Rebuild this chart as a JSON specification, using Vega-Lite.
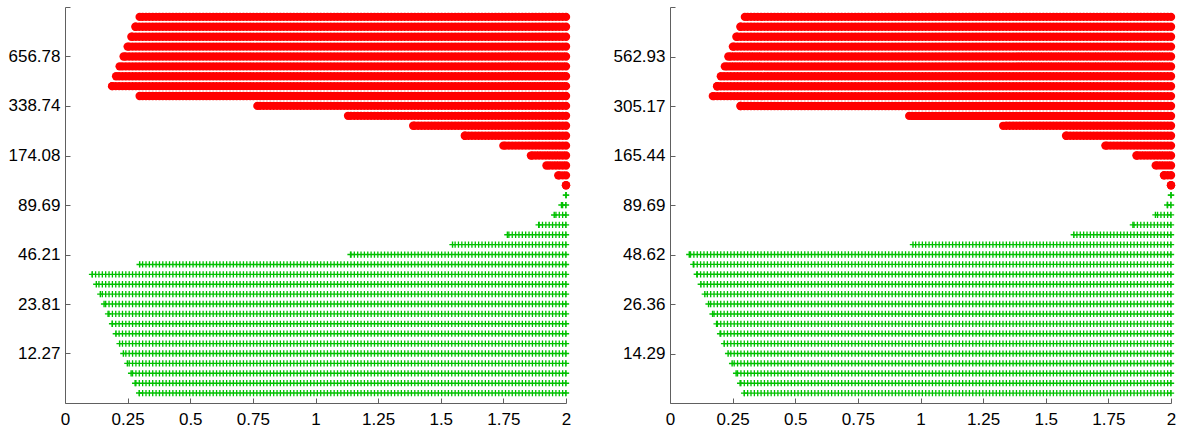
{
  "$schema": "https://vega.github.io/schema/vega-lite/v6.json",
  "background": "white",
  "padding": {"left": 8, "top": 6, "right": 5, "bottom": 0},
  "bounds": "flush",
  "spacing": 104,
  "config": {
    "view": {"stroke": null},
    "axis": {
      "labelFont": "Liberation Sans",
      "labelFontSize": 17,
      "labelColor": "#000000",
      "domainColor": "#606060",
      "tickColor": "#606060",
      "domainWidth": 1,
      "tickWidth": 1,
      "tickSize": -5,
      "labelPadding": 10,
      "labelFlush": false,
      "grid": false,
      "title": null
    }
  },
  "datasets": {
    "left": [
      {"y": 1116.35, "x0": 0.298, "x1": 2, "kind": "red"},
      {"y": 977.70, "x0": 0.281, "x1": 2, "kind": "red"},
      {"y": 856.28, "x0": 0.265, "x1": 2, "kind": "red"},
      {"y": 749.85, "x0": 0.250, "x1": 2, "kind": "red"},
      {"y": 656.78, "x0": 0.234, "x1": 2, "kind": "red"},
      {"y": 575.32, "x0": 0.218, "x1": 2, "kind": "red"},
      {"y": 503.96, "x0": 0.204, "x1": 2, "kind": "red"},
      {"y": 441.46, "x0": 0.188, "x1": 2, "kind": "red"},
      {"y": 386.70, "x0": 0.298, "x1": 2, "kind": "red"},
      {"y": 338.74, "x0": 0.768, "x1": 2, "kind": "red"},
      {"y": 296.51, "x0": 1.13, "x1": 2, "kind": "red"},
      {"y": 259.55, "x0": 1.39, "x1": 2, "kind": "red"},
      {"y": 227.19, "x0": 1.596, "x1": 2, "kind": "red"},
      {"y": 198.87, "x0": 1.75, "x1": 2, "kind": "red"},
      {"y": 174.08, "x0": 1.86, "x1": 2, "kind": "red"},
      {"y": 152.45, "x0": 1.922, "x1": 2, "kind": "red"},
      {"y": 133.51, "x0": 1.969, "x1": 2, "kind": "red"},
      {"y": 116.93, "x0": 2, "x1": 2, "kind": "red"},
      {"y": 102.41, "x0": 2, "x1": 2, "kind": "green"},
      {"y": 89.69, "x0": 1.982, "x1": 2, "kind": "green"},
      {"y": 78.55, "x0": 1.953, "x1": 2, "kind": "green"},
      {"y": 68.79, "x0": 1.891, "x1": 2, "kind": "green"},
      {"y": 60.25, "x0": 1.766, "x1": 2, "kind": "green"},
      {"y": 52.76, "x0": 1.547, "x1": 2, "kind": "green"},
      {"y": 46.21, "x0": 1.14, "x1": 2, "kind": "green"},
      {"y": 40.47, "x0": 0.298, "x1": 2, "kind": "green"},
      {"y": 35.44, "x0": 0.108, "x1": 2, "kind": "green"},
      {"y": 31.04, "x0": 0.125, "x1": 2, "kind": "green"},
      {"y": 27.19, "x0": 0.141, "x1": 2, "kind": "green"},
      {"y": 23.81, "x0": 0.156, "x1": 2, "kind": "green"},
      {"y": 20.86, "x0": 0.172, "x1": 2, "kind": "green"},
      {"y": 18.27, "x0": 0.188, "x1": 2, "kind": "green"},
      {"y": 16.00, "x0": 0.203, "x1": 2, "kind": "green"},
      {"y": 14.01, "x0": 0.218, "x1": 2, "kind": "green"},
      {"y": 12.27, "x0": 0.233, "x1": 2, "kind": "green"},
      {"y": 10.75, "x0": 0.249, "x1": 2, "kind": "green"},
      {"y": 9.41, "x0": 0.264, "x1": 2, "kind": "green"},
      {"y": 8.24, "x0": 0.280, "x1": 2, "kind": "green"},
      {"y": 7.22, "x0": 0.296, "x1": 2, "kind": "green"}
    ],
    "right": [
      {"y": 918.71, "x0": 0.299, "x1": 2, "kind": "red"},
      {"y": 812.83, "x0": 0.281, "x1": 2, "kind": "red"},
      {"y": 719.15, "x0": 0.265, "x1": 2, "kind": "red"},
      {"y": 636.26, "x0": 0.251, "x1": 2, "kind": "red"},
      {"y": 562.93, "x0": 0.233, "x1": 2, "kind": "red"},
      {"y": 498.04, "x0": 0.219, "x1": 2, "kind": "red"},
      {"y": 440.64, "x0": 0.203, "x1": 2, "kind": "red"},
      {"y": 389.86, "x0": 0.188, "x1": 2, "kind": "red"},
      {"y": 344.92, "x0": 0.171, "x1": 2, "kind": "red"},
      {"y": 305.17, "x0": 0.281, "x1": 2, "kind": "red"},
      {"y": 270.00, "x0": 0.955, "x1": 2, "kind": "red"},
      {"y": 238.88, "x0": 1.33, "x1": 2, "kind": "red"},
      {"y": 211.35, "x0": 1.581, "x1": 2, "kind": "red"},
      {"y": 186.99, "x0": 1.738, "x1": 2, "kind": "red"},
      {"y": 165.44, "x0": 1.862, "x1": 2, "kind": "red"},
      {"y": 146.38, "x0": 1.939, "x1": 2, "kind": "red"},
      {"y": 129.50, "x0": 1.972, "x1": 2, "kind": "red"},
      {"y": 114.58, "x0": 2, "x1": 2, "kind": "red"},
      {"y": 101.37, "x0": 2, "x1": 2, "kind": "green"},
      {"y": 89.69, "x0": 1.985, "x1": 2, "kind": "green"},
      {"y": 79.35, "x0": 1.938, "x1": 2, "kind": "green"},
      {"y": 70.20, "x0": 1.848, "x1": 2, "kind": "green"},
      {"y": 62.11, "x0": 1.612, "x1": 2, "kind": "green"},
      {"y": 54.95, "x0": 0.97, "x1": 2, "kind": "green"},
      {"y": 48.62, "x0": 0.077, "x1": 2, "kind": "green"},
      {"y": 43.02, "x0": 0.093, "x1": 2, "kind": "green"},
      {"y": 38.06, "x0": 0.107, "x1": 2, "kind": "green"},
      {"y": 33.67, "x0": 0.123, "x1": 2, "kind": "green"},
      {"y": 29.79, "x0": 0.139, "x1": 2, "kind": "green"},
      {"y": 26.36, "x0": 0.154, "x1": 2, "kind": "green"},
      {"y": 23.32, "x0": 0.170, "x1": 2, "kind": "green"},
      {"y": 20.63, "x0": 0.186, "x1": 2, "kind": "green"},
      {"y": 18.26, "x0": 0.200, "x1": 2, "kind": "green"},
      {"y": 16.15, "x0": 0.216, "x1": 2, "kind": "green"},
      {"y": 14.29, "x0": 0.232, "x1": 2, "kind": "green"},
      {"y": 12.64, "x0": 0.248, "x1": 2, "kind": "green"},
      {"y": 11.19, "x0": 0.264, "x1": 2, "kind": "green"},
      {"y": 9.90, "x0": 0.280, "x1": 2, "kind": "green"},
      {"y": 8.76, "x0": 0.296, "x1": 2, "kind": "green"}
    ]
  },
  "hconcat": [
    {
      "width": 501,
      "height": 396,
      "data": {"name": "left"},
      "encoding": {
        "y": {
          "field": "y", "type": "quantitative",
          "scale": {"type": "log", "domain": [6.32, 1274.67], "nice": false},
          "axis": {
            "values": [12.27, 23.81, 46.21, 89.69, 174.08, 338.74, 656.78, 1274.67],
            "labelExpr": "datum.value > 1000 ? '' : format(datum.value, '.2f')"
          }
        }
      },
      "layer": [
        {
          "transform": [{"filter": "datum.kind == 'green'"}],
          "mark": {"type": "rule", "color": "#00C000", "strokeWidth": 1.4},
          "encoding": {
            "x": {"field": "x1", "type": "quantitative", "scale": {"domain": [0, 2], "nice": false},
                  "axis": {"values": [0, 0.25, 0.5, 0.75, 1, 1.25, 1.5, 1.75, 2], "labelExpr": "format(datum.value, '~g')", "labelPadding": 13}},
            "x2": {"field": "x0"}
          }
        },
        {
          "transform": [{"filter": "datum.kind == 'green'"}],
          "mark": {"type": "rule", "color": "#00C000", "strokeWidth": 6.3, "strokeDash": [1.3, 2.06], "strokeDashOffset": 0.65, "strokeCap": "butt"},
          "encoding": {"x": {"field": "x1", "type": "quantitative"}, "x2": {"field": "x0"}}
        },
        {
          "transform": [{"filter": "datum.kind == 'green'"}],
          "mark": {"type": "point", "shape": "M-1,0L1,0M0,-1L0,1", "filled": false, "stroke": "#00C000", "strokeWidth": 1.4, "size": 40, "opacity": 1},
          "encoding": {"x": {"field": "x0", "type": "quantitative"}}
        },
        {
          "transform": [{"filter": "datum.kind == 'green'"}],
          "mark": {"type": "point", "shape": "M-1,0L1,0M0,-1L0,1", "filled": false, "stroke": "#00C000", "strokeWidth": 1.4, "size": 40, "opacity": 1},
          "encoding": {"x": {"field": "x1", "type": "quantitative"}}
        },
        {
          "transform": [{"filter": "datum.kind == 'red'"}],
          "mark": {"type": "rule", "color": "#FF0000", "strokeWidth": 8.4, "strokeCap": "round", "strokeDash": [0.01, 3.35]},
          "encoding": {"x": {"field": "x1", "type": "quantitative"}, "x2": {"field": "x0"}}
        },
        {
          "transform": [{"filter": "datum.kind == 'red'"}],
          "mark": {"type": "circle", "color": "#FF0000", "size": 70, "opacity": 1},
          "encoding": {"x": {"field": "x0", "type": "quantitative"}}
        }
      ]
    },
    {
      "width": 501,
      "height": 396,
      "data": {"name": "right"},
      "encoding": {
        "y": {
          "field": "y", "type": "quantitative",
          "scale": {"type": "log", "domain": [7.75, 1038.39], "nice": false},
          "axis": {
            "values": [14.29, 26.36, 48.62, 89.69, 165.44, 305.17, 562.93, 1038.39],
            "labelExpr": "datum.value > 1000 ? '' : format(datum.value, '.2f')"
          }
        }
      },
      "layer": [
        {
          "transform": [{"filter": "datum.kind == 'green'"}],
          "mark": {"type": "rule", "color": "#00C000", "strokeWidth": 1.4},
          "encoding": {
            "x": {"field": "x1", "type": "quantitative", "scale": {"domain": [0, 2], "nice": false},
                  "axis": {"values": [0, 0.25, 0.5, 0.75, 1, 1.25, 1.5, 1.75, 2], "labelExpr": "format(datum.value, '~g')", "labelPadding": 13}},
            "x2": {"field": "x0"}
          }
        },
        {
          "transform": [{"filter": "datum.kind == 'green'"}],
          "mark": {"type": "rule", "color": "#00C000", "strokeWidth": 6.3, "strokeDash": [1.3, 2.06], "strokeDashOffset": 0.65, "strokeCap": "butt"},
          "encoding": {"x": {"field": "x1", "type": "quantitative"}, "x2": {"field": "x0"}}
        },
        {
          "transform": [{"filter": "datum.kind == 'green'"}],
          "mark": {"type": "point", "shape": "M-1,0L1,0M0,-1L0,1", "filled": false, "stroke": "#00C000", "strokeWidth": 1.4, "size": 40, "opacity": 1},
          "encoding": {"x": {"field": "x0", "type": "quantitative"}}
        },
        {
          "transform": [{"filter": "datum.kind == 'green'"}],
          "mark": {"type": "point", "shape": "M-1,0L1,0M0,-1L0,1", "filled": false, "stroke": "#00C000", "strokeWidth": 1.4, "size": 40, "opacity": 1},
          "encoding": {"x": {"field": "x1", "type": "quantitative"}}
        },
        {
          "transform": [{"filter": "datum.kind == 'red'"}],
          "mark": {"type": "rule", "color": "#FF0000", "strokeWidth": 8.4, "strokeCap": "round", "strokeDash": [0.01, 3.35]},
          "encoding": {"x": {"field": "x1", "type": "quantitative"}, "x2": {"field": "x0"}}
        },
        {
          "transform": [{"filter": "datum.kind == 'red'"}],
          "mark": {"type": "circle", "color": "#FF0000", "size": 70, "opacity": 1},
          "encoding": {"x": {"field": "x0", "type": "quantitative"}}
        }
      ]
    }
  ]
}
